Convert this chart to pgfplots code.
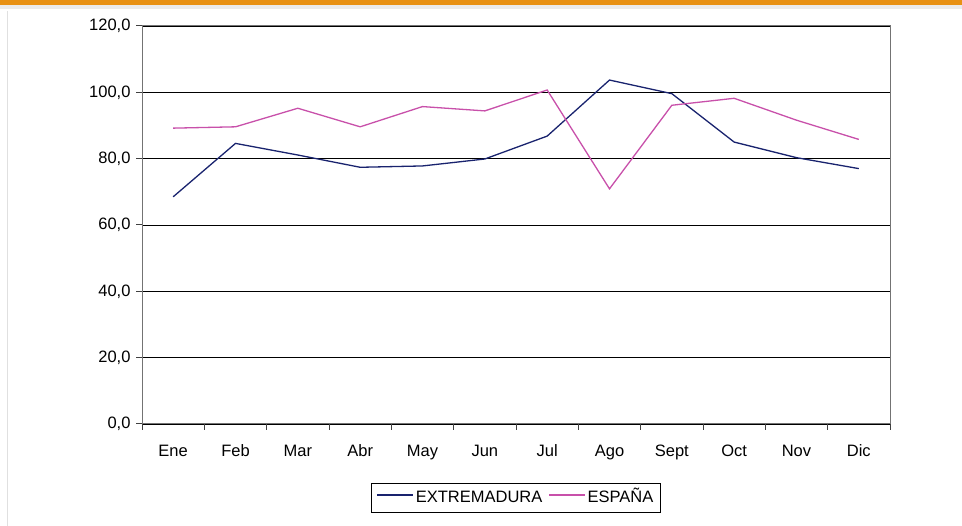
\documentclass[border=0pt]{standalone}
\usepackage{pgfplots}
\pgfplotsset{compat=1.18}
\usepackage{fontspec}
\setmainfont{Liberation Sans}
\definecolor{extc}{RGB}{25,35,110}
\definecolor{espc}{RGB}{200,80,170}
\definecolor{band}{RGB}{232,145,20}
\begin{document}
\begin{tikzpicture}[x=1pt,y=1pt]
\path[use as bounding box] (0,0) rectangle (962,526);
\fill[black!8] (0,517) rectangle (962,521);
\fill[band] (0,521) rectangle (962,526);
\draw[black!12,line width=1pt] (7,0) -- (7,515);
\begin{axis}[
  at={(142pt,102pt)}, anchor=south west,
  scale only axis, width=748pt, height=398pt,
  xmin=0.5, xmax=12.5, ymin=0, ymax=120,
  xtick={0.5,1.5,...,12.5},
  x tick label as interval,
  xticklabels={Ene,Feb,Mar,Abr,May,Jun,Jul,Ago,Sept,Oct,Nov,Dic},
  ytick={0,20,...,120},
  yticklabel style={xshift=-2pt,/pgf/number format/.cd,fixed,fixed zerofill,precision=1,use comma,assume math mode=true},
  tick pos=left, tick align=outside, major tick length=6pt,
  tick style={black!75, line width=1pt},
  ymajorgrids, major grid style={black, line width=0.8pt},
  axis line style={black!55, line width=1pt},
  ticklabel style={font=\fontsize{16.5}{19}\selectfont, text=black},
  xticklabel style={yshift=-11pt, text height=12pt, text depth=3pt},
  legend style={at={(0.5,-0.186)}, anchor=center, legend columns=2,
    draw=black, line width=0.8pt, font=\fontsize{16.5}{19}\selectfont,
    nodes={text height=12pt, text depth=3pt},
    /tikz/every even column/.append style={column sep=4pt},
    inner xsep=5pt, inner ysep=5pt},
  legend cell align=left,
  legend image code/.code={\draw[#1,line width=1.3pt] (0pt,3pt) -- (36pt,3pt);},
]
\addplot[extc, line width=1.3pt] coordinates {
(1,68.5) (2,84.6) (3,81.1) (4,77.4) (5,77.8) (6,79.9)
(7,86.8) (8,103.7) (9,99.6) (10,85.0) (11,80.3) (12,77.0)};
\addlegendentry{EXTREMADURA}
\addplot[espc, line width=1.3pt] coordinates {
(1,89.2) (2,89.6) (3,95.2) (4,89.6) (5,95.7) (6,94.4)
(7,100.7) (8,70.9) (9,96.1) (10,98.2) (11,91.6) (12,85.8)};
\addlegendentry{ESPAÑA}
\end{axis}
\end{tikzpicture}
\end{document}
